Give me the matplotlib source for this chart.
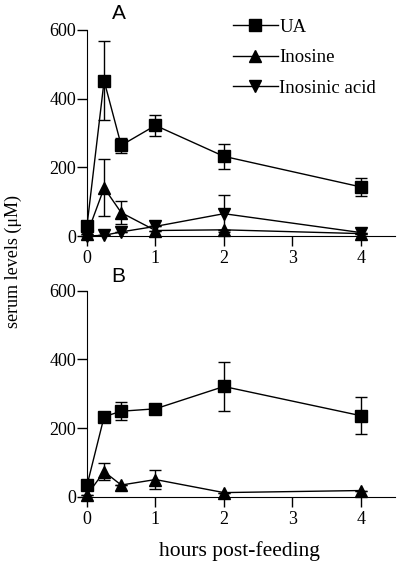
import matplotlib.pyplot as plt
from matplotlib.lines import Line2D

# --- data ---
hours = [0, 0.25, 0.5, 1, 2, 4]

ua_a = [30, 452, 264, 322, 232, 143]
ua_a_err = [0, 115, 22, 30, 37, 27]
ino_a = [5, 140, 68, 16, 18, 7]
ino_a_err = [0, 83, 33, 0, 0, 0]
imp_a = [0, 2, 12, 28, 65, 10]
imp_a_err = [0, 0, 0, 0, 54, 0]

ua_b = [33, 233, 249, 256, 321, 236]
ua_b_err = [0, 0, 26, 5, 70, 54]
ino_b = [5, 73, 34, 50, 12, 18]
ino_b_err = [0, 24, 0, 27, 0, 0]

x_ticks = [0, 1, 2, 3, 4]
y_ticks = [0, 200, 400, 600]

SERIF = "Liberation Serif"
SANS = "Liberation Sans"
plt.rcParams["font.family"] = SERIF

fig = plt.figure(figsize=(4.0, 5.68), dpi=100)
ax_a = fig.add_axes([0.2175, 0.5845, 0.77, 0.3627])
ax_b = fig.add_axes([0.2175, 0.1255, 0.77, 0.3627])


def draw_series(ax, y, err, marker, ms):
    ax.errorbar(hours, y, yerr=err, fmt="-", marker=marker, color="black",
                ms=ms, lw=1.0, elinewidth=1.0, capsize=4, capthick=1.0,
                clip_on=False, zorder=3)


draw_series(ax_a, ua_a, ua_a_err, "s", 9)
draw_series(ax_a, ino_a, ino_a_err, "^", 8)
draw_series(ax_a, imp_a, imp_a_err, "v", 8)

draw_series(ax_b, ua_b, ua_b_err, "s", 9)
draw_series(ax_b, ino_b, ino_b_err, "^", 8)

for ax in (ax_a, ax_b):
    ax.set_xlim(0, 4.5)
    ax.set_ylim(0, 600)
    ax.set_xticks(x_ticks)
    ax.set_yticks(y_ticks)
    ax.spines["top"].set_visible(False)
    ax.spines["right"].set_visible(False)
    ax.tick_params(direction="out", length=7, width=1, labelsize=13, pad=1)
    ax.tick_params(axis="x", pad=3)

# panel letters
ax_a.text(0.08, 1.035, "A", transform=ax_a.transAxes, fontsize=15,
          family=SANS, ha="left", va="bottom")
ax_b.text(0.08, 1.025, "B", transform=ax_b.transAxes, fontsize=15,
          family=SANS, ha="left", va="bottom")

# legend with plain line+marker handles (no error bars)
handles = [
    Line2D([], [], color="black", lw=1.0, marker="s", ms=9),
    Line2D([], [], color="black", lw=1.0, marker="^", ms=8),
    Line2D([], [], color="black", lw=1.0, marker="v", ms=8),
]
ax_a.legend(handles, ["UA", "Inosine", "Inosinic acid"], loc="upper left",
            bbox_to_anchor=(0.43, 1.12), frameon=False, fontsize=13.5,
            handlelength=2.4, handletextpad=0.1, labelspacing=0.72,
            borderpad=0.2, numpoints=1)

fig.text(0.033, 0.54, "serum levels (\u03bcM)", rotation=90, fontsize=13,
         ha="center", va="center")
fig.text(0.598, 0.03, "hours post-feeding", fontsize=15.5, ha="center",
         va="center")

fig.savefig("out.png", dpi=100)
